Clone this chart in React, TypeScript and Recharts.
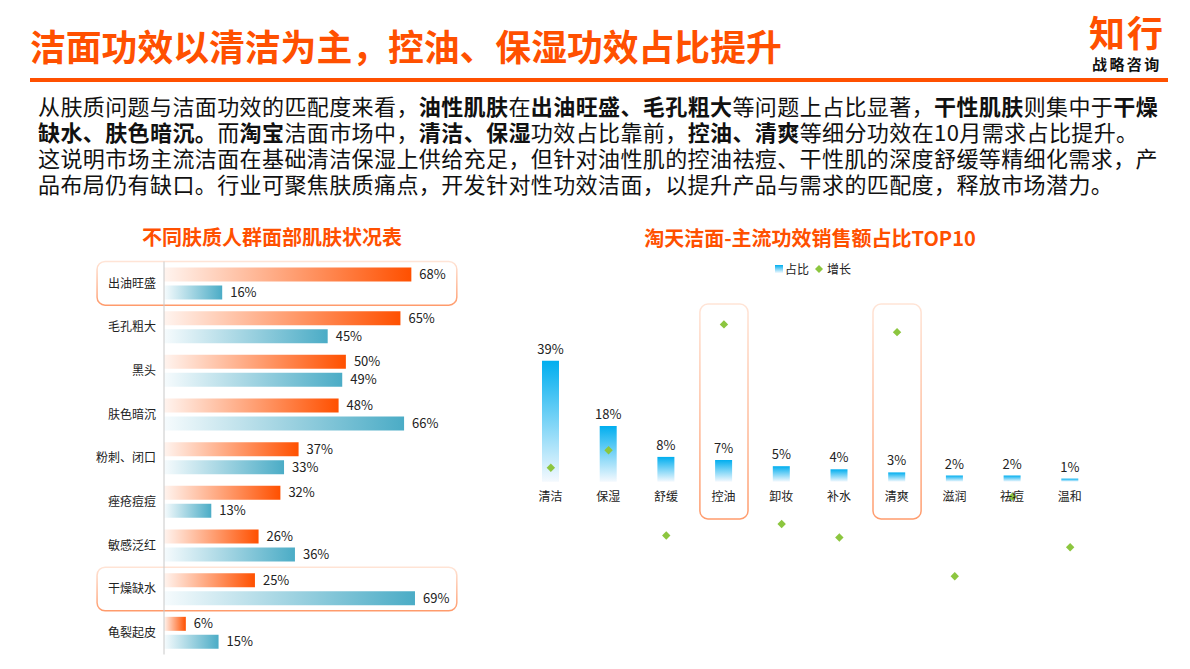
import React from "react";
import {
    BarChart,
    ComposedChart,
    Bar,
    Scatter,
    XAxis,
    YAxis,
    LabelList,
    ReferenceArea
} from "recharts";

const FONT = "'Noto Sans CJK SC', 'Microsoft YaHei', sans-serif";
const ORANGE = "#FF5000";

// 肌肤状况：油性 / 干性人群占比
const skinIssues = ["出油旺盛", "毛孔粗大", "黑头", "肤色暗沉", "粉刺、闭口", "痤疮痘痘", "敏感泛红", "干燥缺水", "龟裂起皮"];
const oilySkin = [68, 65, 50, 48, 37, 32, 26, 25, 6];
const drySkin = [16, 45, 49, 66, 33, 13, 36, 69, 15];

// 淘天洁面功效 TOP10：销售额占比 / 增长
const effects = ["清洁", "保湿", "舒缓", "控油", "卸妆", "补水", "清爽", "滋润", "祛痘", "温和"];
const salesShare = [39, 18, 8, 7, 5, 4, 3, 2, 2, 1];
const growthRate = [8, 17, -27, 82, -21, -28, 78, -48, -7, -33];

const skinData = skinIssues.map((name, i) => ({ name, oily: oilySkin[i], dry: drySkin[i] }));
const effectData = effects.map((name, i) => ({ name, share: salesShare[i], growth: growthRate[i] }));

const summary: [string, boolean][][] = [
    [["从肤质问题与洁面功效的匹配度来看，", false], ["油性肌肤", true], ["在", false], ["出油旺盛、毛孔粗大", true], ["等问题上占比显著，", false], ["干性肌肤", true], ["则集中于", false], ["干燥", true]],
    [["缺水、肤色暗沉。", true], ["而", false], ["淘宝", true], ["洁面市场中，", false], ["清洁、保湿", true], ["功效占比靠前，", false], ["控油、清爽", true], ["等细分功效在10月需求占比提升。", false]],
    [["这说明市场主流洁面在基础清洁保湿上供给充足，但针对油性肌的控油祛痘、干性肌的深度舒缓等精细化需求，产", false]],
    [["品布局仍有缺口。行业可聚焦肤质痛点，开发针对性功效洁面，以提升产品与需求的匹配度，释放市场潜力。", false]]
];

const pct = (v: any) => `${v}%`;

const RoundBox = (inset: number) => (p: any) => (
    <rect
        x={p.x + inset}
        y={p.y}
        width={Math.max(p.width - inset * 2, 0)}
        height={p.height}
        rx={8}
        ry={8}
        fill="none"
        stroke="url(#boxStroke)"
        strokeWidth={1.5}
    />
);

const BoxGradient = () => (
    <linearGradient id="boxStroke" x1="0" y1="0" x2="0" y2="1">
        <stop offset="0%" stopColor="#FFE4D6" />
        <stop offset="100%" stopColor="#FF9B6C" />
    </linearGradient>
);

const Diamond = (p: any) => {
    const { cx, cy } = p;
    const r = 4.2;
    return <polygon points={`${cx},${cy - r} ${cx + r},${cy} ${cx},${cy + r} ${cx - r},${cy}`} fill="#8CC63F" />;
};

const NameBelow = (p: any) => (
    <text x={p.x + p.width / 2} y={p.y + p.height + 19} textAnchor="middle" fontSize={12} fill="#222" fontFamily={FONT}>
        {p.value}
    </text>
);

const SkinChart = () => (
    <BarChart
        width={480}
        height={420}
        data={skinData}
        layout="vertical"
        barSize={14}
        barGap={4}
        margin={{ top: 11.5, right: 25, left: 0, bottom: 15.5 }}>
        <defs>
            <linearGradient id="oilGrad" x1="0" y1="0" x2="1" y2="0">
                <stop offset="0%" stopColor="#FFF4EF" />
                <stop offset="100%" stopColor={ORANGE} />
            </linearGradient>
            <linearGradient id="dryGrad" x1="0" y1="0" x2="1" y2="0">
                <stop offset="0%" stopColor="#F6FBFD" />
                <stop offset="100%" stopColor="#4BACC6" />
            </linearGradient>
            <BoxGradient />
        </defs>
        <XAxis type="number" domain={[0, 80]} hide />
        <YAxis
            type="category"
            dataKey="name"
            width={164}
            tickLine={false}
            axisLine={{ stroke: "#C8C8C8" }}
            tick={{ fontSize: 12, fill: "#222", fontFamily: FONT }}
        />
        <ReferenceArea y1="出油旺盛" y2="出油旺盛" x1={-18.4} x2={80.5} ifOverflow="visible" shape={RoundBox(0)} />
        <ReferenceArea y1="干燥缺水" y2="干燥缺水" x1={-18.4} x2={80.5} ifOverflow="visible" shape={RoundBox(0)} />
        <Bar dataKey="oily" name="油性肌肤" fill="url(#oilGrad)" isAnimationActive={false}>
            <LabelList dataKey="oily" position="right" offset={8} formatter={pct} fontSize={13} fill="#222" fontFamily={FONT} />
        </Bar>
        <Bar dataKey="dry" name="干性肌肤" fill="url(#dryGrad)" isAnimationActive={false}>
            <LabelList dataKey="dry" position="right" offset={8} formatter={pct} fontSize={13} fill="#222" fontFamily={FONT} />
        </Bar>
    </BarChart>
);

const EffectChart = () => (
    <ComposedChart
        width={600}
        height={330}
        data={effectData}
        barSize={17}
        margin={{ top: 9.5, right: 11, left: 12, bottom: 10.5 }}>
        <defs>
            <linearGradient id="shareGrad" x1="0" y1="0" x2="0" y2="1">
                <stop offset="0%" stopColor="#00AEEF" />
                <stop offset="100%" stopColor="#F4F9FE" />
            </linearGradient>
            <BoxGradient />
        </defs>
        <XAxis dataKey="name" hide />
        <YAxis yAxisId="share" domain={[-38, 62]} hide width={0} />
        <YAxis yAxisId="growth" domain={[-60, 100]} hide width={0} orientation="right" />
        <ReferenceArea yAxisId="share" x1="控油" x2="控油" y1={-12} y2={57.3} ifOverflow="visible" shape={RoundBox(4.8)} />
        <ReferenceArea yAxisId="share" x1="清爽" x2="清爽" y1={-12} y2={57.3} ifOverflow="visible" shape={RoundBox(4.8)} />
        <Bar yAxisId="share" dataKey="share" name="占比" fill="url(#shareGrad)" isAnimationActive={false}>
            <LabelList dataKey="share" position="top" offset={7} formatter={pct} fontSize={13} fill="#222" fontFamily={FONT} />
            <LabelList dataKey="name" content={NameBelow} />
        </Bar>
        <Scatter yAxisId="growth" dataKey="growth" name="增长" shape={Diamond} isAnimationActive={false} />
    </ComposedChart>
);

export default function App() {
    return (
        <div style={{ position: "absolute", left: 0, top: 0, width: 1190, height: 669, background: "#fff", fontFamily: FONT, overflow: "hidden" }}>
            <div style={{ position: "absolute", left: 30, top: 27, fontSize: 35.8, lineHeight: "36px", fontWeight: 700, color: ORANGE, whiteSpace: "nowrap" }}>
                洁面功效以清洁为主，控油、保湿功效占比提升
            </div>
            <div style={{ position: "absolute", left: 1089, top: 12, fontSize: 36, lineHeight: "38px", fontWeight: 700, color: ORANGE, letterSpacing: 2 }}>
                知行
            </div>
            <div style={{ position: "absolute", left: 1092, top: 55, fontSize: 15, lineHeight: "18px", fontWeight: 700, color: "#111", letterSpacing: 2.4 }}>
                战略咨询
            </div>
            <div style={{ position: "absolute", left: 30, top: 78, width: 1138, height: 4, background: ORANGE }} />

            <div style={{ position: "absolute", left: 38, top: 92, fontSize: 22, lineHeight: "26px", color: "#111", letterSpacing: 0.4 }}>
                {summary.map((line, i) => (
                    <div key={i} style={{ whiteSpace: "nowrap", height: 26 }}>
                        {line.map(([t, b], j) => (
                            <span key={j} style={{ fontWeight: b ? 700 : 400 }}>{t}</span>
                        ))}
                    </div>
                ))}
            </div>

            <div style={{ position: "absolute", left: 72, width: 400, top: 226, textAlign: "center", fontSize: 20, lineHeight: "22px", fontWeight: 700, color: ORANGE }}>
                不同肤质人群面部肌肤状况表
            </div>
            <div style={{ position: "absolute", left: 610, width: 400, top: 227, textAlign: "center", fontSize: 20, lineHeight: "22px", fontWeight: 700, color: ORANGE }}>
                淘天洁面-主流功效销售额占比TOP10
            </div>

            <div style={{ position: "absolute", left: 775, top: 261, display: "flex", alignItems: "center", fontSize: 12, lineHeight: "16px", color: "#222" }}>
                <span style={{ display: "inline-block", width: 8, height: 8, background: "linear-gradient(#00AEEF, #F4F9FE)", marginRight: 2 }} />
                <span>占比</span>
                <svg width={12} height={10} style={{ margin: "0 2px 0 4px" }}>
                    <polygon points="6,1 10,5 6,9 2,5" fill="#8CC63F" />
                </svg>
                <span>增长</span>
            </div>

            <div style={{ position: "absolute", left: 0, top: 250 }}>
                <SkinChart />
            </div>
            <div style={{ position: "absolute", left: 510, top: 280 }}>
                <EffectChart />
            </div>
        </div>
    );
}
